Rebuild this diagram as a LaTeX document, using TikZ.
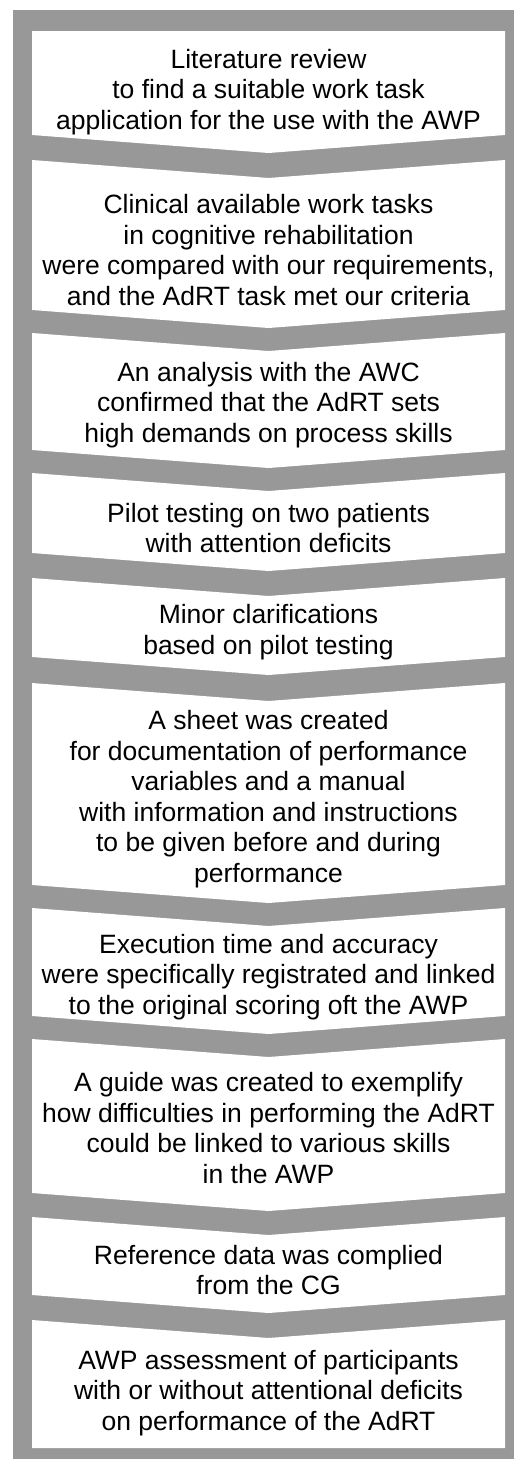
\documentclass[tikz,border=0pt]{standalone}
\usepackage{fontspec}
\setmainfont{Liberation Sans}
\definecolor{bandgray}{RGB}{152,152,152}
\begin{document}
\begin{tikzpicture}[x=1pt,y=-1pt,
  steptext/.style={align=center,inner sep=0pt,font=\fontsize{26.5}{30.5}\selectfont,text=black}]
\useasboundingbox (0,0) rectangle (514,1459);
\fill[white] (0,0) rectangle (514,1459);
\fill[bandgray] (12.5,10) rectangle (514,1459);
\foreach \t/\b/\dt/\db in {31/135/0/18, 160/310/18/18, 333/450/18/18, 473/553/18/18, 578/657/18/18, 683/885/18/18, 908/1016/18/18, 1039/1193/18/18, 1217/1295/18/18, 1320/1448/18/0}{
  \fill[white] (32,\t) -- (268.5,\t+\dt) -- (505,\t) -- (505,\b) -- (268.5,\b+\db) -- (32,\b) -- cycle;
}
\node[steptext] (s1) at (268.5,92) {Literature review\\to find a suitable work task\\application for the use with the AWP};
\node[steptext] (s2) at (268.5,250) {Clinical available work tasks\\in cognitive rehabilitation\\were compared with our requirements,\\and the AdRT task met our criteria};
\node[steptext] (s3) at (268.5,405) {An analysis with the AWC\\confirmed that the AdRT sets\\high demands on process skills};
\node[steptext] (s4) at (268.5,528) {Pilot testing on two patients\\with attention deficits};
\node[steptext] (s5) at (268.5,632) {Minor clarifications\\based on pilot testing};
\node[steptext] (s6) at (268.5,799) {A sheet was created\\for documentation of performance\\variables and a manual\\with information and instructions\\to be given before and during\\performance};
\node[steptext] (s7) at (268.5,977) {Execution time and accuracy\\were specifically registrated and linked\\to the original scoring oft the AWP};
\node[steptext] (s8) at (268.5,1128) {A guide was created to exemplify\\how difficulties in performing the AdRT\\could be linked to various skills\\in the AWP};
\node[steptext] (s9) at (268.5,1270) {Reference data was complied\\from the CG};
\node[steptext] (s10) at (268.5,1393) {AWP assessment of participants\\with or without attentional deficits\\on performance of the AdRT};
\end{tikzpicture}
\end{document}
